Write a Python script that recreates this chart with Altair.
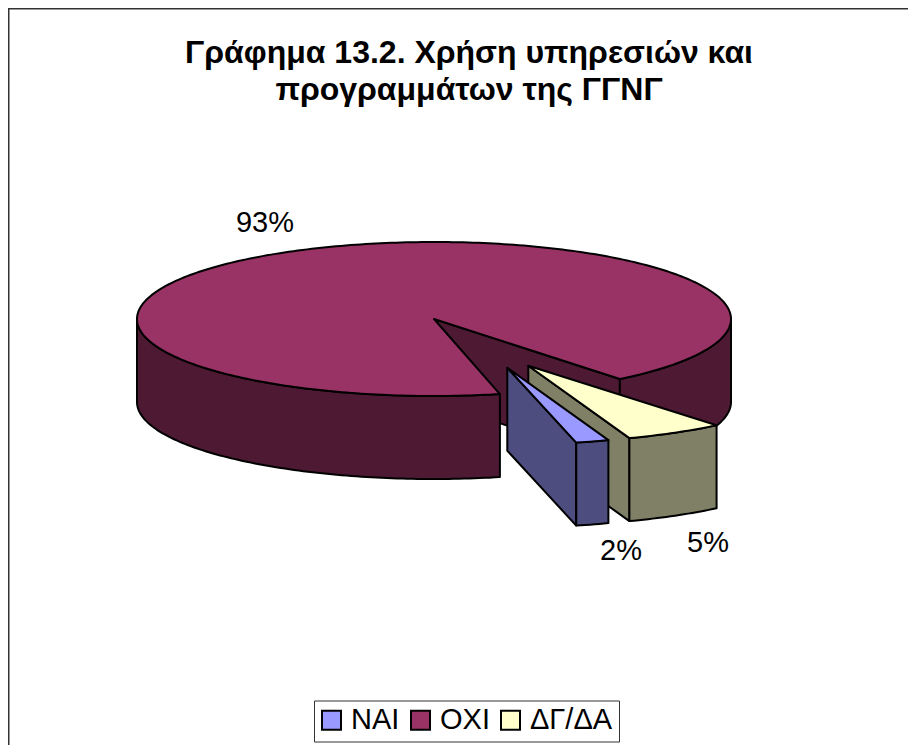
import math
import altair as alt

# ---- values
categories = ["ΝΑΙ", "ΟΧΙ", "ΔΓ/ΔΑ"]
shares = [1.8, 92.8, 5.4]          # per cent, as drawn
labels = ["2%", "93%", "5%"]
colors_top = ["#9999FF", "#993366", "#FFFFCC"]
colors_wall = ["#4D4D80", "#4D1933", "#808066"]
title_lines = ["Γράφημα 13.2. Χρήση υπηρεσιών και", "προγραμμάτων της ΓΓΝΓ"]

# ---- pie geometry (page pixels)
START = 160.1      # clockwise from 12 o'clock, where the first slice begins
MAIN_ROT = 0.6     # small extra turn of the big slice
RX, RY, DEPTH = 297, 77, 83
CENTRES = {"ΝΑΙ": (507.3, 367.7), "ΟΧΙ": (434, 319), "ΔΓ/ΔΑ": (528.3, 365.7)}
LABEL_POS = {"ΝΑΙ": (621, 560), "ΟΧΙ": (265, 232), "ΔΓ/ΔΑ": (708, 552)}

spans = {}
a = START
for c, s in zip(categories, shares):
    spans[c] = (a, a + s * 3.6)
    a += s * 3.6


def pt(centre, ang, dz=0):
    t = math.radians(ang)
    return [centre[0] + RX * math.sin(t), centre[1] - RY * math.cos(t) + dz]


def arc(centre, a0, a1, dz=0):
    n = max(2, int(abs(a1 - a0)) + 1)
    return [pt(centre, a0 + (a1 - a0) * i / n, dz) for i in range(n + 1)]


def feature(ring, name):
    ring = ring + [ring[0]]
    return {"type": "Feature", "properties": {"slice": name},
            "geometry": {"type": "Polygon", "coordinates": [ring]}}


def front_wall(centre, a0, a1, name):
    top = arc(centre, a0, a1)
    bottom = arc(centre, a1, a0, DEPTH)
    return feature(top + bottom, name)


def cut_wall(centre, ang, name):
    c0 = [centre[0], centre[1]]
    c1 = [centre[0], centre[1] + DEPTH]
    return feature([c0, pt(centre, ang), pt(centre, ang, DEPTH), c1], name)


def top_face(centre, a0, a1, name):
    return feature([[centre[0], centre[1]]] + arc(centre, a0, a1), name)


PROJ = dict(type="identity", scale=1, translate=[-8, -8])
color_scale = alt.Scale(domain=categories, range=colors_top)
legend = alt.Legend(
    title=None, orient="none", legendX=306, legendY=692.5, direction="horizontal",
    columns=3, symbolType="square", symbolSize=361, symbolStrokeColor="black",
    symbolStrokeWidth=2, symbolOpacity=1, labelFont="Liberation Sans", labelFontSize=29,
    labelColor="black", labelOffset=5, labelLimit=200, columnPadding=9, clipHeight=27,
    strokeColor="#333333", fillColor="white", padding=6, symbolOffset=-3,
)


def walls(features, colour):
    return alt.Chart(alt.Data(values=features)).mark_geoshape(
        fill=colour, stroke="black", strokeWidth=2, strokeJoin="round"
    ).project(**PROJ)


def top(feat):
    return alt.Chart(alt.Data(values=[feat])).mark_geoshape(
        stroke="black", strokeWidth=2, strokeJoin="round"
    ).encode(
        color=alt.Color("properties.slice:N", scale=color_scale, legend=legend)
    ).project(**PROJ)


layers = []
# main slice
c = "ΟΧΙ"
a0, a1 = spans[c]
a0 += MAIN_ROT
a1 += MAIN_ROT
end = a1 - 360
layers.append(walls([
    cut_wall(CENTRES[c], end, c),
    front_wall(CENTRES[c], 90, end, c),
    front_wall(CENTRES[c], a0, 270, c),
], colors_wall[1]))
layers.append(top(top_face(CENTRES[c], a0, a1, c)))
# exploded slices, back to front
for c, col in (("ΔΓ/ΔΑ", colors_wall[2]), ("ΝΑΙ", colors_wall[0])):
    a0, a1 = spans[c]
    if a0 > 360:
        a0 -= 360
        a1 -= 360
    layers.append(walls([
        cut_wall(CENTRES[c], a1, c),
        front_wall(CENTRES[c], a0, a1, c),
    ], col))
    layers.append(top(top_face(CENTRES[c], a0, a1, c)))

label_rows = [{"t": t, "lon": LABEL_POS[c][0], "lat": LABEL_POS[c][1]}
              for c, t in zip(categories, labels)]
text = alt.Chart(alt.Data(values=label_rows)).mark_text(
    font="Liberation Sans", fontSize=29, color="black", align="center", baseline="alphabetic"
).encode(longitude="lon:Q", latitude="lat:Q", text="t:N").project(**PROJ)

W, H = 900, 737
frame_left = alt.Chart(alt.Data(values=[{"a": 0}])).mark_rule(color="#333333", strokeWidth=2).encode(
    x=alt.value(0.5), y=alt.value(0), y2=alt.value(H))
frame_top = alt.Chart(alt.Data(values=[{"a": 0}])).mark_rule(color="#333333", strokeWidth=2).encode(
    y=alt.value(0.5), x=alt.value(0), x2=alt.value(W))

chart = alt.layer(frame_left, frame_top, *layers, text).properties(
    width=W, height=H, padding=0, background="white",
    autosize=alt.AutoSizeParams(type="none"),
    title=alt.TitleParams(
        text=title_lines, anchor="middle", frame="group", font="Liberation Sans",
        fontSize=32, fontWeight="bold", color="black", lineHeight=37,
        baseline="alphabetic", offset=0, dy=125, dx=11,
    ),
).configure_view(stroke=None)

chart.save("out.html", embed_options={"renderer": "svg", "actions": False})
